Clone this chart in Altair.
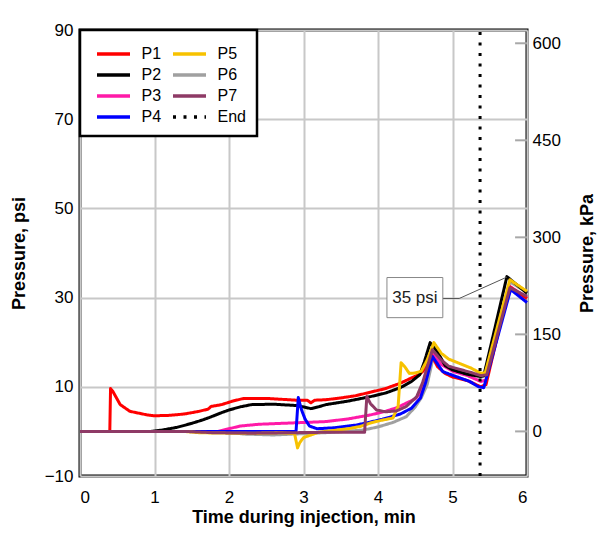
import altair as alt
import pandas as pd

FONT = "Liberation Sans"

# ---------------- data ----------------
p1_t = [0, 0.40, 0.41, 0.44, 0.50, 0.54, 0.67, 0.9, 1.0, 1.2, 1.4, 1.6, 1.72, 1.76, 1.9, 2.05, 2.2, 2.5, 2.7, 2.9, 3.05, 3.1, 3.15, 3.3, 3.5, 3.7, 3.9, 4.1, 4.3, 4.45, 4.56, 4.62, 4.72, 4.8, 4.9, 5.0, 5.2, 5.38, 5.45, 5.76, 6.0]
p1_p = [0, 0, 9.6, 9.0, 7.2, 6.0, 4.5, 3.7, 3.5, 3.6, 3.9, 4.5, 5.0, 5.6, 6.0, 6.8, 7.4, 7.4, 7.2, 7.0, 7.0, 6.4, 7.0, 7.1, 7.5, 8.0, 8.8, 9.6, 10.8, 12.0, 12.8, 13.8, 17.0, 14.5, 13.0, 12.2, 11.4, 10.0, 10.5, 32.5, 29.8]

p2_t = [0, 0.95, 1.1, 1.3, 1.5, 1.65, 1.75, 1.9, 2.0, 2.15, 2.3, 2.6, 2.9, 3.0, 3.1, 3.2, 3.3, 3.6, 3.9, 4.1, 4.3, 4.45, 4.56, 4.62, 4.70, 4.8, 4.9, 5.0, 5.2, 5.38, 5.42, 5.73, 6.0]
p2_p = [0, 0, 0.3, 0.9, 1.8, 2.6, 3.2, 4.2, 4.8, 5.5, 6.0, 6.1, 5.8, 5.5, 5.1, 5.5, 6.0, 6.8, 7.8, 8.6, 9.8, 11.2, 12.7, 15.5, 19.9, 17.8, 14.8, 13.8, 12.8, 12.3, 12.5, 34.7, 31.0]

p3_t = [0, 1.85, 2.0, 2.15, 2.4, 2.7, 3.0, 3.3, 3.6, 3.9, 4.1, 4.25, 4.4, 4.5, 4.58, 4.64, 4.73, 4.85, 5.0, 5.2, 5.38, 5.45, 5.77, 6.0]
p3_p = [0, 0, 0.6, 1.2, 1.6, 1.8, 2.0, 2.2, 2.8, 3.7, 4.5, 5.3, 6.5, 7.3, 8.8, 12.0, 17.5, 15.0, 13.5, 12.5, 11.2, 11.5, 32.5, 30.0]

p4_t = [0, 2.90, 2.93, 2.97, 3.02, 3.08, 3.18, 3.4, 3.7, 3.9, 4.1, 4.3, 4.45, 4.57, 4.64, 4.73, 4.87, 5.0, 5.23, 5.35, 5.42, 5.78, 6.0]
p4_p = [0, 0, 7.6, 5.0, 2.8, 1.2, 0.6, 0.8, 1.4, 2.1, 2.9, 3.9, 5.2, 7.5, 11.0, 16.8, 13.4, 12.6, 11.2, 10.0, 9.8, 31.8, 28.9]

p5_t = [0, 1.4, 1.6, 2.0, 2.4, 2.7, 2.88, 2.92, 2.95, 3.0, 3.1, 3.2, 3.4, 3.6, 3.76, 3.9, 4.05, 4.2, 4.27, 4.31, 4.36, 4.42, 4.5, 4.58, 4.66, 4.75, 4.85, 4.95, 5.1, 5.25, 5.38, 5.44, 5.77, 6.0]
p5_p = [0, 0, -0.3, -0.4, -0.4, -0.3, -0.5, -3.7, -2.5, -1.4, -0.8, -0.2, 0.2, 0.6, 1.1, 1.9, 2.5, 3.0, 5.6, 15.4, 14.5, 13.0, 13.1, 13.5, 16.0, 19.9, 17.5, 16.2, 15.2, 14.2, 13.0, 13.2, 34.0, 31.4]

p6_t = [0, 1.9, 2.2, 2.6, 3.0, 3.4, 3.8, 4.0, 4.2, 4.38, 4.5, 4.58, 4.66, 4.76, 4.85, 5.0, 5.2, 5.38, 5.45, 5.77, 6.0]
p6_p = [0, 0, -0.6, -0.8, -0.5, -0.2, 0.3, 1.0, 2.0, 3.3, 5.5, 7.5, 10.5, 18.0, 15.5, 14.0, 13.0, 12.2, 12.4, 33.5, 31.2]

p7_t = [0, 1.4, 1.8, 2.3, 2.8, 3.3, 3.82, 3.85, 3.9, 3.98, 4.1, 4.25, 4.38, 4.52, 4.6, 4.73, 4.85, 4.95, 5.1, 5.25, 5.38, 5.46, 5.77, 6.0]
p7_p = [0, 0, -0.3, -0.4, -0.3, -0.2, -0.2, 7.8, 6.2, 4.8, 4.4, 4.6, 5.6, 7.8, 11.0, 18.3, 16.0, 14.6, 13.9, 13.2, 12.5, 12.7, 32.2, 30.3]

end_t = [5.37, 5.37]
end_p = [-10, 90]

series_names = ["P1", "P2", "P3", "P4", "P5", "P6", "P7", "End"]
series_colors = ["#ff0000", "#000000", "#ff1aa8", "#0000ff", "#f7c200", "#a0a0a0", "#8e3a66", "#000000"]

legend_order = ["P1", "P2", "P3", "P4", "P5", "P6", "P7", "End"]
draw_order = ["P6", "P3", "P1", "P2", "P4", "P5", "P7", "End"]

x_ticks = [0, 1, 2, 3, 4, 5, 6]
psi_ticks = [-10, 10, 30, 50, 70, 90]
kpa_ticks = [0, 150, 300, 450, 600]
PSI_TO_KPA = 6.89476

# annotation
ann_text = ["35 psi"]
ann_box = {"x1": [4.12], "x2": [4.87], "y1": [25.5], "y2": [34.5]}
ann_conn_t = [4.87, 5.09, 5.73]
ann_conn_p = [29.8, 29.8, 34.6]

# ---------------- build tables ----------------
all_t = [p1_t, p2_t, p3_t, p4_t, p5_t, p6_t, p7_t, end_t]
all_p = [p1_p, p2_p, p3_p, p4_p, p5_p, p6_p, p7_p, end_p]
rows = []
for name, ts, ps in zip(series_names, all_t, all_p):
    for i, (t, p) in enumerate(zip(ts, ps)):
        rows.append({"series": name, "t": t, "p": p, "i": i})
df = pd.DataFrame(rows)

color_map = dict(zip(series_names, series_colors))
leg_colors = [color_map[s] for s in legend_order]
leg_dash = [[3, 7.5] if s == "End" else [1, 0] for s in legend_order]

xscale = alt.Scale(domain=[0, 6], nice=False, zero=False)
yscale = alt.Scale(domain=[-10, 90], nice=False, zero=False)

x_axis = alt.Axis(values=x_ticks, title="Time during injection, min", grid=True,
                  gridColor="#c8c8c8", gridWidth=2, ticks=False, labelPadding=13,
                  titlePadding=3, format="d")
y_axis = alt.Axis(values=psi_ticks, title="Pressure, psi", grid=True,
                  gridColor="#c8c8c8", gridWidth=2, ticks=False, labelPadding=7,
                  titlePadding=16, format="d")

legend = alt.Legend(title=None, orient="top-left", offset=0, columns=2,
                    strokeColor="black", fillColor="white", padding=11,
                    symbolType="M-1.5,0H1.5", symbolSize=484, symbolStrokeWidth=3.5,
                    symbolOffset=9.5, labelFontSize=16, labelFont=FONT,
                    columnPadding=4, rowPadding=-4, labelOffset=15)

color_enc = alt.Color("series:N", scale=alt.Scale(domain=legend_order, range=leg_colors), legend=legend)
dash_enc = alt.StrokeDash("series:N", scale=alt.Scale(domain=legend_order, range=leg_dash), legend=legend)

base = alt.Chart(df)
line_layers = []
for s in draw_order:
    line_layers.append(
        base.transform_filter(alt.datum.series == s)
        .mark_line(strokeWidth=3, strokeJoin="round")
        .encode(
            x=alt.X("t:Q", scale=xscale, axis=x_axis),
            y=alt.Y("p:Q", scale=yscale, axis=y_axis),
            color=color_enc,
            strokeDash=dash_enc,
            order="i:Q",
        )
    )

conn_df = pd.DataFrame({"t": ann_conn_t, "p": ann_conn_p, "i": list(range(len(ann_conn_t)))})
conn = alt.Chart(conn_df).mark_line(color="#555555", strokeWidth=1).encode(
    x=alt.X("t:Q", scale=xscale, axis=x_axis),
    y=alt.Y("p:Q", scale=yscale, axis=y_axis),
    order="i:Q",
)

box_df = pd.DataFrame(ann_box)
box = alt.Chart(box_df).mark_rect(fill="white", stroke="#888888", strokeWidth=1).encode(
    x=alt.X("x1:Q", scale=xscale, axis=x_axis), x2="x2:Q",
    y=alt.Y("y1:Q", scale=yscale, axis=y_axis), y2="y2:Q",
)

txt_df = pd.DataFrame({"t": [(ann_box["x1"][0] + ann_box["x2"][0]) / 2],
                       "p": [(ann_box["y1"][0] + ann_box["y2"][0]) / 2],
                       "label": ann_text})
txt = alt.Chart(txt_df).mark_text(fontSize=17, font=FONT, color="#222222",
                                  baseline="middle", align="center").encode(
    x=alt.X("t:Q", scale=xscale, axis=x_axis),
    y=alt.Y("p:Q", scale=yscale, axis=y_axis),
    text="label:N",
)

psi_layer = alt.layer(*line_layers[:-1], conn, box, txt, line_layers[-1])

kpa_df = pd.DataFrame({"kpa": kpa_ticks, "t0": [5.84] * len(kpa_ticks), "t1": [6.0] * len(kpa_ticks)})
kpa_layer = alt.Chart(kpa_df).mark_rule(color="#a8a8a8", strokeWidth=2).encode(
    x=alt.X("t0:Q", scale=xscale, axis=x_axis), x2="t1:Q",
    y=alt.Y("kpa:Q", scale=alt.Scale(domain=[-10 * PSI_TO_KPA, 90 * PSI_TO_KPA], nice=False, zero=False),
            axis=alt.Axis(orient="right", values=kpa_ticks, title="Pressure, kPa", grid=False,
                          ticks=False, labelPadding=5, titlePadding=36, titleAngle=270, format="d")),
)

chart = (
    alt.layer(psi_layer, kpa_layer)
    .resolve_scale(y="independent")
    .properties(width=447, height=446,
                autosize=alt.AutoSizeParams(type="none"),
                padding={"left": 72, "top": 22, "right": 70, "bottom": 51},
                background="white")
    .configure_view(stroke="black", strokeWidth=3)
    .configure_axis(labelFont=FONT, labelFontSize=17, labelColor="black",
                    titleFont=FONT, titleFontSize=18, titleFontWeight="bold",
                    titleColor="black", domain=False)
    .configure_legend(strokeWidth=2.5)
)

chart.save("out.html", embed_options={"renderer": "svg", "actions": False})
